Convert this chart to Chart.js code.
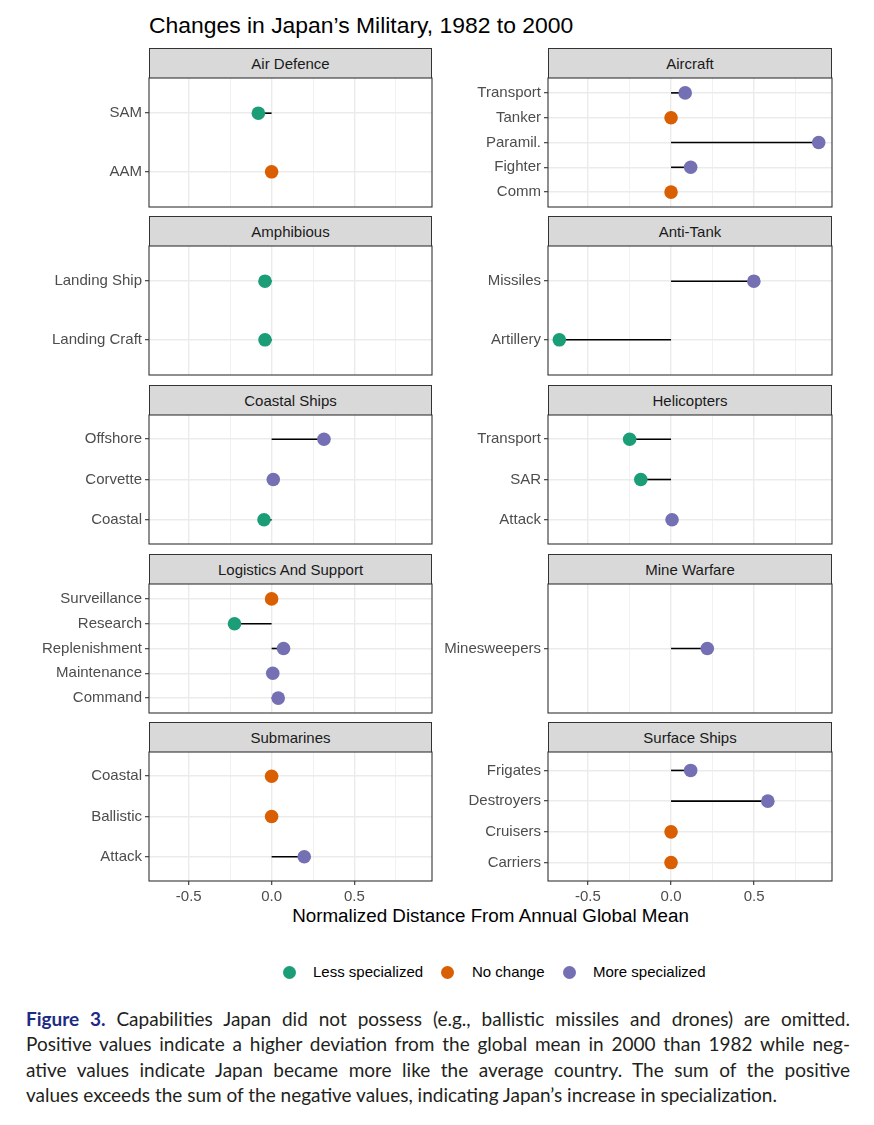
<!DOCTYPE html>
<html>
<head>
<meta charset="utf-8">
<script src="https://cdn.jsdelivr.net/npm/chart.js@4.4.0/dist/chart.umd.min.js"></script>
<style>
body{margin:0;background:#fff;width:874px;height:1125px;position:relative;overflow:hidden;font-family:"Liberation Sans",Arial,sans-serif}
.strip{position:absolute;background:#d9d9d9;border:1px solid #333;border-bottom:none;box-sizing:border-box;text-align:center;font-size:15px;color:#1a1a1a}
canvas{position:absolute}
#title{position:absolute;left:149px;top:14px;font-size:22.9px;line-height:1;color:#000;white-space:nowrap}
#xtitle{position:absolute;left:190px;width:601px;top:907px;text-align:center;font-size:18.8px;line-height:1;color:#000;white-space:nowrap}
.lg-dot{position:absolute;width:13px;height:13px;border-radius:50%}
.lg-txt{position:absolute;font-size:15px;line-height:18px;color:#000;white-space:nowrap}
#caption{position:absolute;left:26px;top:1006px;width:824px;font-family:Lato,"Open Sans",sans-serif;font-size:19px;line-height:25.3px;color:#231f20}
#caption div{white-space:nowrap;text-align:justify;text-align-last:justify}
#caption div.last{text-align-last:left}
#caption b{color:#1d2b84}
</style>
</head>
<body>
<div id="title">Changes in Japan’s Military, 1982 to 2000</div>
<div id="xtitle">Normalized Distance From Annual Global Mean</div>
<div id="legend"></div>
<div id="caption">
<div><b>Figure 3.</b> Capabilities Japan did not possess (e.g., ballistic missiles and drones) are omitted.</div>
<div>Positive values indicate a higher deviation from the global mean in 2000 than 1982 while neg-</div>
<div>ative values indicate Japan became more like the average country. The sum of the positive</div>
<div class="last">values exceeds the sum of the negative values, indicating Japan’s increase in specialization.</div>
</div>
<script>
// ===================== DATOS =====================
// categorías de arriba hacia abajo, tal como se ven en cada panel
const panelNames=['Air Defence','Aircraft','Amphibious','Anti-Tank','Coastal Ships','Helicopters','Logistics And Support','Mine Warfare','Submarines','Surface Ships'];

const airDefenceItems=['SAM','AAM'];
const airDefenceValues=[-0.08,0];
const aircraftItems=['Transport','Tanker','Paramil.','Fighter','Comm'];
const aircraftValues=[0.085,0,0.888,0.118,0];
const amphibiousItems=['Landing Ship','Landing Craft'];
const amphibiousValues=[-0.04,-0.04];
const antiTankItems=['Missiles','Artillery'];
const antiTankValues=[0.498,-0.672];
const coastalItems=['Offshore','Corvette','Coastal'];
const coastalValues=[0.316,0.01,-0.046];
const heliItems=['Transport','SAR','Attack'];
const heliValues=[-0.249,-0.182,0.006];
const logisticsItems=['Surveillance','Research','Replenishment','Maintenance','Command'];
const logisticsValues=[0,-0.224,0.072,0.007,0.04];
const mineItems=['Minesweepers'];
const mineValues=[0.218];
const subItems=['Coastal','Ballistic','Attack'];
const subValues=[0,0,0.197];
const surfaceItems=['Frigates','Destroyers','Cruisers','Carriers'];
const surfaceValues=[0.118,0.582,0,0];

const xTicks=[-0.5,-0.25,0,0.25,0.5,0.75];
const xTickLabels=['-0.5','','0.0','','0.5',''];
const statusNames=['Less specialized','No change','More specialized'];
const statusColors=['#1b9e77','#d95f02','#7570b3'];

const panelItems=[airDefenceItems,aircraftItems,amphibiousItems,antiTankItems,coastalItems,heliItems,logisticsItems,mineItems,subItems,surfaceItems];
const panelValues=[airDefenceValues,aircraftValues,amphibiousValues,antiTankValues,coastalValues,heliValues,logisticsValues,mineValues,subValues,surfaceValues];

// ===================== DIBUJO =====================
const FONT='"Liberation Sans",Arial,sans-serif';
const X_MIN=-0.74,X_MAX=0.968;
function statusOf(v){return v<0?0:(v===0?1:2);}
function noPad(s){s.paddingTop=0;s.paddingBottom=0;s.paddingLeft=0;s.paddingRight=0;}

const frame={id:'frame',afterDraw(ch){
  const a=ch.chartArea,c=ch.ctx;
  c.save();c.strokeStyle='#333';c.lineWidth=1.1;
  c.strokeRect(a.left,a.top,a.right-a.left,a.bottom-a.top);
  c.restore();
}};

panelNames.forEach((name,i)=>{
  const col=i%2,row=Math.floor(i/2);
  const bottom=row===4;
  const items=panelItems[i],vals=panelValues[i],n=items.length;
  const top=Math.round(77.7+row*168.6);
  const plotH=129;
  const left=col?548:149,right=col?832:432;
  const cLeft=col?436:0;

  const st=document.createElement('div');
  st.className='strip';
  st.style.cssText=`left:${left}px;top:${top-30}px;width:${right-left}px;height:30px;line-height:29px`;
  st.textContent=name;
  document.body.appendChild(st);

  const cv=document.createElement('canvas');
  const extra=bottom?32:2;
  cv.width=right+2-cLeft;cv.height=plotH+2+extra;
  cv.style.left=cLeft+'px';cv.style.top=(top-2)+'px';
  document.body.appendChild(cv);

  const segs=[];
  vals.forEach((v,k)=>{
    if(v!==0) segs.push({type:'line',data:[{x:0,y:n-k},{x:v,y:n-k}],borderColor:'#000',borderWidth:1.6,pointRadius:0,order:2});
  });
  const pts={type:'scatter',data:vals.map((v,k)=>({x:v,y:n-k})),
    pointRadius:6.8,pointBorderWidth:0,
    pointBackgroundColor:vals.map(v=>statusColors[statusOf(v)]),order:1};

  new Chart(cv,{
    type:'scatter',
    data:{datasets:[...segs,pts]},
    options:{
      responsive:false,animation:false,events:[],
      layout:{autoPadding:false,padding:{top:2,right:2,left:0,bottom:0}},
      plugins:{legend:{display:false},tooltip:{enabled:false}},
      scales:{
        x:{type:'linear',min:X_MIN,max:X_MAX,
          afterBuildTicks:s=>{s.ticks=xTicks.map(v=>({value:v}));},
          afterFit:s=>{s.height=extra;noPad(s);},
          border:{display:false},
          grid:{color:'#ebebeb',lineWidth:c=>xTickLabels[c.index]?1.4:0.7,
            drawTicks:bottom,tickLength:4,tickWidth:1.1,
            tickColor:c=>xTickLabels[c.index]?'#333':'rgba(0,0,0,0)'},
          ticks:{display:bottom,padding:3,color:'#4d4d4d',font:{size:15,family:FONT},
            maxRotation:0,autoSkip:false,callback:(v,idx)=>xTickLabels[idx]}
        },
        y:{type:'linear',min:0.4,max:n+0.6,
          afterBuildTicks:s=>{s.ticks=items.map((_,k)=>({value:k+1}));},
          afterFit:s=>{s.width=left-cLeft;noPad(s);},
          border:{display:false},
          grid:{color:'#ebebeb',lineWidth:1.4,tickLength:4,tickWidth:1.1,tickColor:'#333'},
          ticks:{padding:3,color:'#4d4d4d',font:{size:15,family:FONT},autoSkip:false,
            callback:v=>items[n-v]}
        }
      }
    },
    plugins:[frame]
  });
});

// leyenda
const lg=document.getElementById('legend');
const dotX=[289,447,569],txtX=[313,472,593];
statusNames.forEach((s,k)=>{
  const d=document.createElement('div');d.className='lg-dot';
  d.style.cssText=`left:${dotX[k]-6.5}px;top:${972-6.5}px;background:${statusColors[k]}`;
  const t=document.createElement('div');t.className='lg-txt';
  t.style.cssText=`left:${txtX[k]}px;top:${972-9}px`;t.textContent=s;
  lg.appendChild(d);lg.appendChild(t);
});

// ajustar el pie si una línea no cabe
const cap=document.getElementById('caption');
let worst=1;
cap.querySelectorAll('div').forEach(l=>{
  const sp=document.createElement('span');sp.innerHTML=l.innerHTML;sp.style.whiteSpace='nowrap';
  sp.style.position='absolute';sp.style.visibility='hidden';
  cap.appendChild(sp);
  const w=sp.getBoundingClientRect().width;
  if(w>824) worst=Math.min(worst,824/w);
  sp.remove();
});
if(worst<1) cap.style.fontSize=(19*worst*0.995)+'px';
</script>
</body>
</html>
